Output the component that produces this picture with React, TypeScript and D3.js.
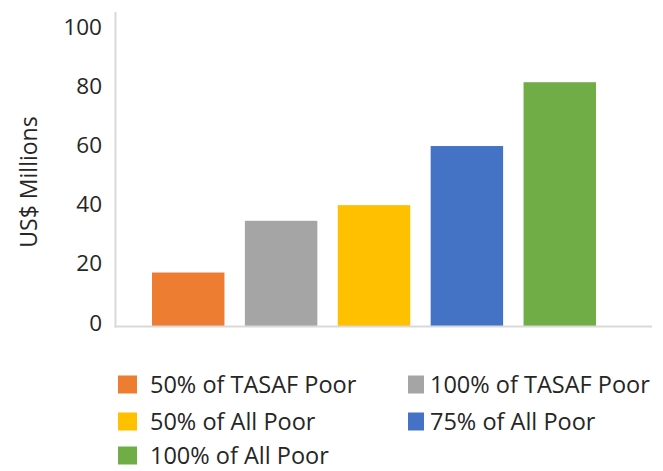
import React from "react";
import * as d3 from "d3";

const categories = [
  "50% of TASAF Poor",
  "100% of TASAF Poor",
  "50% of All Poor",
  "75% of All Poor",
  "100% of All Poor",
];
const values = [18.1, 35.6, 40.9, 60.9, 82.5];
const colors = ["#ED7D31", "#A5A5A5", "#FFC000", "#4472C4", "#70AD47"];
const yTicks = [0, 20, 40, 60, 80, 100];
const yTitle = "US$ Millions";

const W = 663;
const H = 471;
const FONT = "'Open Sans', sans-serif";
const TEXT = "#262626";

export default function App() {
  const x = d3
    .scaleBand<string>()
    .domain(categories)
    .range([152, 596])
    .paddingInner(0.22)
    .paddingOuter(0);
  const y = d3.scaleLinear().domain([0, 100]).range([326, 30.5]);

  const legendCols = [
    { sx: 118, sw: 19, tx: 150 },
    { sx: 408, sw: 16, tx: 430 },
  ];
  const legendBaselines = [393, 430, 464];

  return (
    <svg
      width={W}
      height={H}
      style={{ position: "absolute", left: 0, top: 0, display: "block", background: "#fff" }}
      fontFamily={FONT}
    >
      {/* bars */}
      {categories.map((c, i) => (
        <rect
          key={c}
          x={x(c)}
          y={y(values[i])}
          width={x.bandwidth()}
          height={y(0) - y(values[i])}
          fill={colors[i]}
        />
      ))}
      {/* axes */}
      <line x1={115.5} x2={115.5} y1={12} y2={327.5} stroke="#D9D9D9" strokeWidth={2} />
      <line x1={114.5} x2={652} y1={326.5} y2={326.5} stroke="#D9D9D9" strokeWidth={2} />
      {/* ticks */}
      {yTicks.map((t) => (
        <text
          key={t}
          x={102}
          y={y(t)}
          dy={-4}
          textAnchor="end"
          dominantBaseline="central"
          fontSize={22.5}
          fill={TEXT}
        >
          {t}
        </text>
      ))}
      {/* y title */}
      <text
        transform={`translate(28,182) rotate(-90)`}
        textAnchor="middle"
        dominantBaseline="central"
        fontSize={23}
        fill={TEXT}
      >
        {yTitle}
      </text>
      {/* legend */}
      {categories.map((c, i) => {
        const col = legendCols[i % 2];
        const base = legendBaselines[Math.floor(i / 2)];
        return (
          <g key={"lg" + c}>
            <rect x={col.sx} y={base - 17.5} width={col.sw} height={18} fill={colors[i]} />
            <text x={col.tx} y={base} fontSize={23.5} fill={TEXT}>
              {c}
            </text>
          </g>
        );
      })}
    </svg>
  );
}
